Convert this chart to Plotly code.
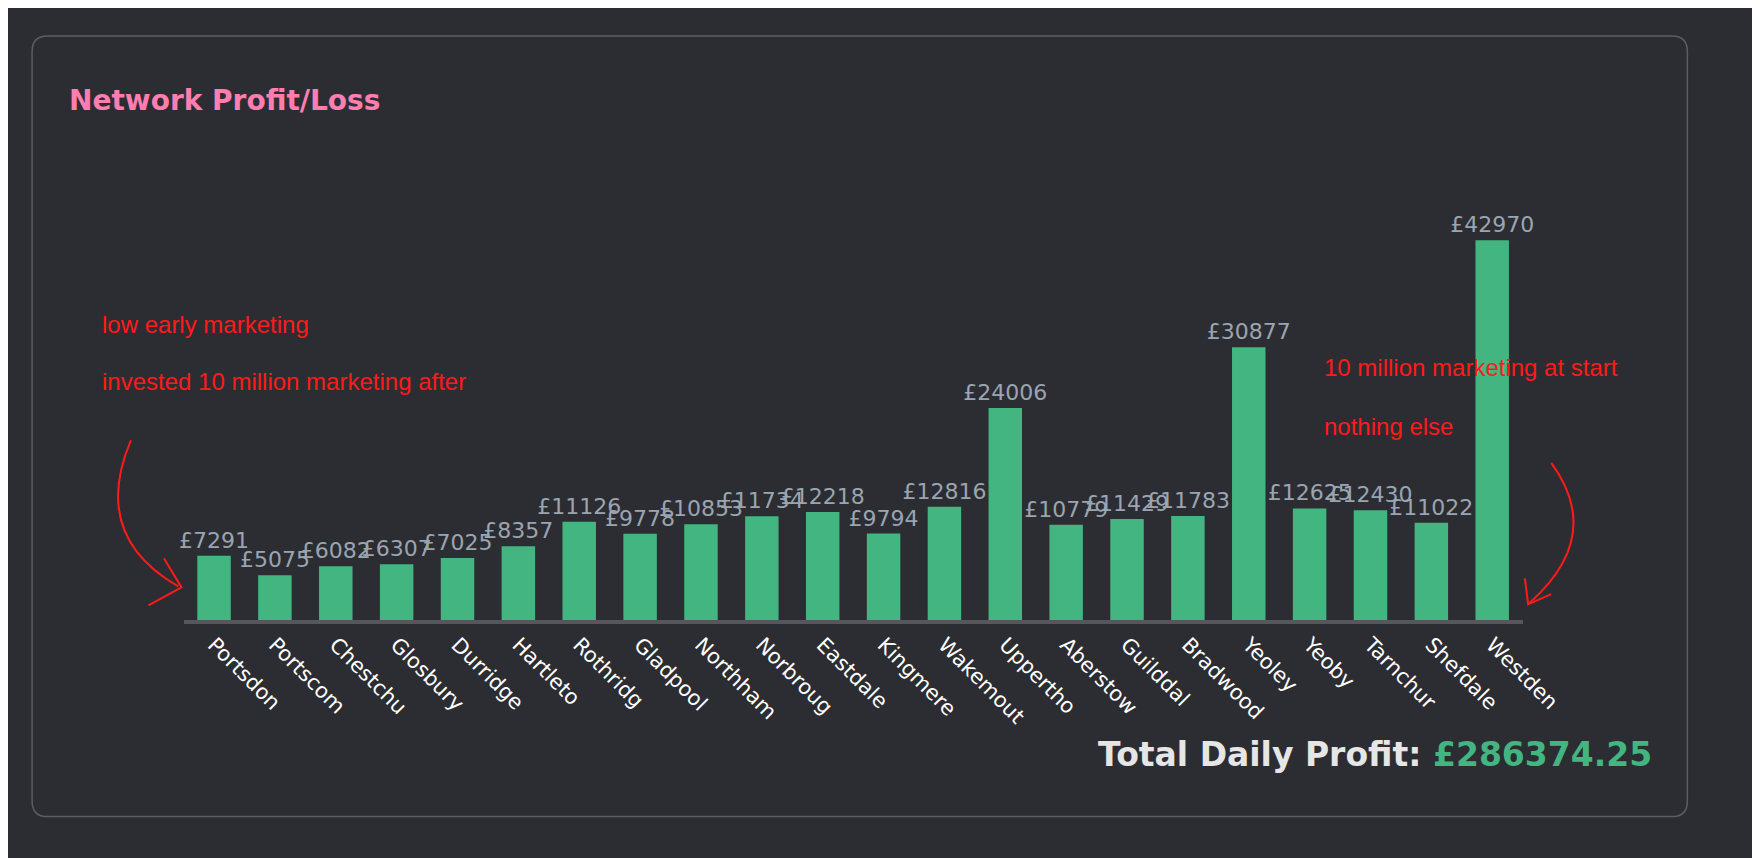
import plotly.graph_objects as go

# --- data ---
TOWNS = ["Portsdon", "Portscom", "Chestchu", "Glosbury", "Durridge", "Hartleto",
         "Rothridg", "Gladpool", "Northham", "Norbroug", "Eastdale", "Kingmere",
         "Wakemout", "Uppertho", "Aberstow", "Guilddal", "Bradwood", "Yeoley",
         "Yeoby", "Tarnchur", "Shefdale", "Westden"]
PROFIT = [7291, 5075, 6082, 6307, 7025, 8357, 11126, 9778, 10853, 11734, 12218,
          9794, 12816, 24006, 10779, 11429, 11783, 30877, 12625, 12430, 11022, 42970]
TOTAL = "£286374.25"

# --- config ---
REF_W, REF_H = 1568, 764   # reference pixel grid used for placement
BG = "#2c2d32"
GREEN = "#43b581"
RED = "#ff1a1a"


def px(x, y):
    """Reference pixel -> paper coords (margins are zero, so paper = page)."""
    return x / REF_W, 1 - y / REF_H


def path_of(points):
    """Points list of (cmd, x, y) in ref pixels -> svg path in paper units."""
    out = []
    for cmd, x, y in points:
        X, Y = px(x, y)
        out.append(f"{cmd} {X:.4f} {Y:.4f}")
    return " ".join(out)


fig = go.Figure(go.Bar(
    x=TOWNS, y=PROFIT,
    marker=dict(color=GREEN, line=dict(width=0)),
    text=[f"£{v}" for v in PROFIT], textposition="outside", constraintext="none",
    textfont=dict(color="#9aa5b1", size=22, family="DejaVu Sans"), cliponaxis=False,
))

x0, _ = px(160, 0)
x1, _ = px(1380, 0)
_, yb = px(0, 545)
_, yt = px(0, 150)
fig.update_layout(
    width=1760, height=858,
    paper_bgcolor=BG, plot_bgcolor=BG,
    margin=dict(l=0, r=0, t=0, b=0),
    font=dict(family="DejaVu Sans", color="white"),
    showlegend=False, bargap=0.45,
    xaxis=dict(domain=[x0, x1], tickangle=45, showgrid=False, showline=True,
               linecolor="#55575c", linewidth=4, ticks="",
               tickfont=dict(color="white", size=21)),
    yaxis=dict(domain=[yb, yt], range=[0, 50200], visible=False),
)

# card outline with rounded corners
r = 14
card = [("M", 22 + r, 25), ("L", 1530 - r, 25), ("Q", 1530, 25), ("", 1530, 25 + r),
        ("L", 1530, 720 - r), ("Q", 1530, 720), ("", 1530 - r, 720),
        ("L", 22 + r, 720), ("Q", 22, 720), ("", 22, 720 - r),
        ("L", 22, 25 + r), ("Q", 22, 25), ("", 22 + r, 25)]
card_path = path_of(card) + " Z"
fig.add_shape(type="path", path=card_path, xref="paper", yref="paper",
              line=dict(color="#5a5d63", width=1.5), layer="below")

# hand-drawn arrows
arrows = [
    [("M", 112, 385), ("Q", 75, 470), ("", 155, 515)],
    [("M", 142, 490), ("L", 158, 516), ("L", 128, 532)],
    [("M", 1406, 405), ("Q", 1455, 470), ("", 1386, 530)],
    [("M", 1382, 508), ("L", 1385, 531), ("L", 1406, 522)],
]
for a in arrows:
    fig.add_shape(type="path", path=path_of(a), xref="paper", yref="paper",
                  line=dict(color=RED, width=2))

def note(x, y, text, size, color, anchor="left", bold=False, family="DejaVu Sans"):
    X, Y = px(x, y)
    fig.add_annotation(x=X, y=Y, xref="paper", yref="paper", text=f"<b>{text}</b>" if bold else text,
                       showarrow=False, xanchor=anchor, yanchor="middle",
                       font=dict(size=size, color=color, family=family))

note(54, 82, "Network Profit/Loss", 28, "#ff7eb0", bold=True)
note(84, 282, "low early marketing", 24, RED, family="Liberation Sans")
note(84, 333, "invested 10 million marketing after", 24, RED, family="Liberation Sans")
note(1197, 320, "10 million marketing at start", 24, RED, family="Liberation Sans")
note(1197, 373, "nothing else", 24, RED, family="Liberation Sans")
note(1500, 665, f"Total Daily Profit: <span style='color:{GREEN}'>{TOTAL}</span>",
     33, "#e6e6e6", anchor="right", bold=True)

fig.write_html("out.html")
